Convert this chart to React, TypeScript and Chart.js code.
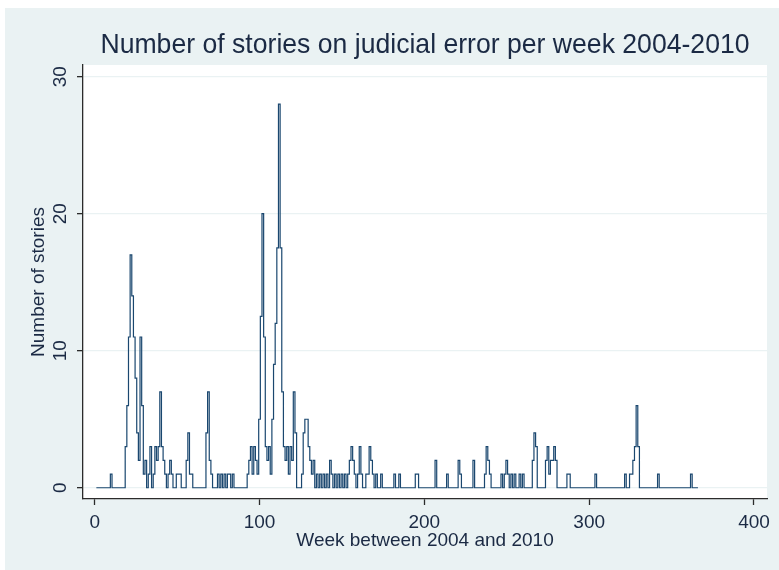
import React, { useEffect, useRef } from "react";
import { Chart, registerables } from "chart.js";

Chart.register(...registerables);

// Weekly story counts, week 1 onward (ten weeks per row)
const stories: number[] = [
  0, 0, 0, 0, 0, 0, 0, 0, 0, 1,
  0, 0, 0, 0, 0, 0, 0, 0, 3, 6,
  11, 17, 14, 11, 8, 4, 2, 11, 6, 1,
  2, 0, 1, 3, 0, 1, 3, 2, 3, 7,
  3, 2, 1, 0, 1, 2, 1, 0, 0, 1,
  1, 1, 0, 0, 0, 2, 4, 1, 1, 0,
  0, 0, 0, 0, 0, 0, 0, 4, 7, 2,
  1, 0, 0, 0, 1, 0, 1, 0, 1, 0,
  1, 1, 0, 1, 0, 0, 0, 0, 0, 0,
  0, 0, 1, 2, 3, 1, 3, 2, 1, 5,
  12.5, 20, 11, 3, 2, 3, 1, 5, 9, 12,
  17.5, 28, 17.5, 7, 3, 2, 3, 1, 3, 2,
  7, 4, 0, 0, 0, 1, 4, 5, 5, 3,
  2, 1, 2, 0, 1, 0, 1, 0, 1, 0,
  1, 0, 2, 1, 0, 1, 0, 1, 0, 1,
  0, 1, 0, 1, 2, 3, 2, 1, 0, 1,
  3, 1, 0, 0, 1, 1, 3, 2, 1, 0,
  1, 0, 0, 1, 0, 0, 0, 0, 0, 0,
  0, 1, 0, 0, 1, 0, 0, 0, 0, 0,
  0, 0, 0, 0, 1, 1, 0, 0, 0, 0,
  0, 0, 0, 0, 0, 0, 2, 0, 0, 0,
  0, 0, 0, 1, 0, 0, 0, 0, 0, 0,
  2, 1, 0, 0, 0, 0, 0, 0, 0, 2,
  0, 0, 0, 0, 0, 0, 1, 3, 2, 1,
  0, 0, 0, 0, 0, 0, 1, 0, 1, 2,
  1, 0, 1, 0, 1, 0, 0, 1, 0, 1,
  0, 0, 0, 0, 0, 2, 4, 3, 0, 0,
  0, 0, 0, 2, 3, 1, 2, 2, 3, 2,
  0, 0, 0, 0, 0, 0, 1, 1, 0, 0,
  0, 0, 0, 0, 0, 0, 0, 0, 0, 0,
  0, 0, 0, 1, 0, 0, 0, 0, 0, 0,
  0, 0, 0, 0, 0, 0, 0, 0, 0, 0,
  0, 1, 0, 0, 1, 1, 2, 3, 6, 3,
  0, 0, 0, 0, 0, 0, 0, 0, 0, 0,
  0, 1, 0, 0, 0, 0, 0, 0, 0, 0,
  0, 0, 0, 0, 0, 0, 0, 0, 0, 0,
  0, 1, 0, 0, 0, 0,
];

// Week number of each count (first week is 1)
const weeks: number[] = stories.map((_, i) => i + 1);

const xTicks: number[] = [0, 100, 200, 300, 400];
const yTicks: number[] = [0, 10, 20, 30];

const chartTitle = "Number of stories on judicial error per week 2004-2010";
const xTitle = "Week between 2004 and 2010";
const yTitle = "Number of stories";

const FONT = '"Liberation Sans", Arial, sans-serif';
const TEXT = "#1b2a44";
const AXIS = "#2b2b2b";
const REGION = "#eaf2f3";
const LINE = "#1a476f";

const backdrop = {
  id: "backdrop",
  beforeDraw(chart: any) {
    const { ctx, width, height, chartArea } = chart;
    ctx.save();
    ctx.fillStyle = "#ffffff";
    ctx.fillRect(0, 0, width, height);
    ctx.fillStyle = REGION;
    ctx.fillRect(5, 8, width - 5, height - 8);
    ctx.fillStyle = "#ffffff";
    ctx.fillRect(
      chartArea.left,
      chartArea.top,
      chartArea.right - chartArea.left,
      chartArea.bottom - chartArea.top
    );
    ctx.restore();
  },
  afterDraw(chart: any) {
    // Title in a slightly condensed face, centred over the plot region
    const { ctx, chartArea } = chart;
    const cx = (chartArea.left + chartArea.right) / 2;
    ctx.save();
    ctx.fillStyle = TEXT;
    ctx.font = `28px ${FONT}`;
    ctx.textAlign = "center";
    ctx.textBaseline = "middle";
    ctx.translate(cx, 45);
    ctx.scale(0.95, 1);
    ctx.fillText(chartTitle, 0, 0);
    ctx.restore();
  },
};

export default function App() {
  const ref = useRef<HTMLCanvasElement | null>(null);

  useEffect(() => {
    if (!ref.current) return;
    const chart = new Chart(ref.current, {
      type: "line",
      data: {
        datasets: [
          {
            data: weeks.map((w, i) => ({ x: w, y: stories[i] })),
            stepped: "middle",
            borderColor: LINE,
            borderWidth: 1.2,
            pointRadius: 0,
            fill: false,
          },
        ],
      },
      options: {
        animation: false,
        responsive: false,
        devicePixelRatio: 1,
        layout: { padding: { top: 65, right: 12, bottom: 0, left: 0 } },
        plugins: {
          legend: { display: false },
          tooltip: { enabled: false },
          title: { display: false },
        },
        scales: {
          x: {
            type: "linear",
            min: -7.1,
            max: 407.9,
            afterBuildTicks: (s: any) => {
              s.ticks = xTicks.map((v) => ({ value: v }));
            },
            afterFit: (s: any) => {
              s.height = 71;
            },
            grid: {
              drawOnChartArea: false,
              drawTicks: true,
              tickLength: 6,
              tickColor: AXIS,
              tickWidth: 1.3,
            },
            border: { display: true, color: AXIS, width: 1.3 },
            ticks: {
              color: TEXT,
              font: { family: FONT, size: 19 },
              padding: 6,
              maxRotation: 0,
              minRotation: 0,
            },
            title: {
              display: true,
              text: xTitle,
              color: TEXT,
              font: { family: FONT, size: 19 },
              padding: { top: 0, bottom: 18 },
            },
          },
          y: {
            type: "linear",
            min: -0.82,
            max: 30.85,
            afterBuildTicks: (s: any) => {
              s.ticks = yTicks.map((v) => ({ value: v }));
            },
            afterFit: (s: any) => {
              s.width = 83;
            },
            grid: {
              color: REGION,
              lineWidth: 1.3,
              drawTicks: true,
              tickLength: 6,
              tickColor: AXIS,
              tickWidth: 1.3,
            },
            border: { display: true, color: AXIS, width: 1.3 },
            ticks: {
              color: TEXT,
              font: { family: FONT, size: 19 },
              padding: 6,
              minRotation: 90,
              maxRotation: 90,
              crossAlign: "center",
            },
            title: {
              display: true,
              text: yTitle,
              color: TEXT,
              font: { family: FONT, size: 19 },
              padding: { top: 27, bottom: 0 },
            },
          },
        },
      },
      plugins: [backdrop],
    } as any);
    return () => chart.destroy();
  }, []);

  return (
    <div style={{ position: "absolute", left: 0, top: 0, width: 779, height: 570 }}>
      <canvas ref={ref} width={779} height={570} />
    </div>
  );
}
